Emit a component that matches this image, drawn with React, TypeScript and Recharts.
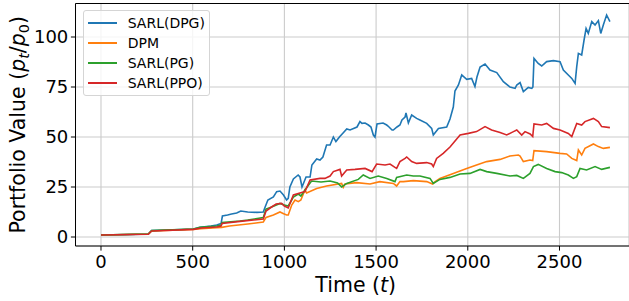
import { LineChart, Line, XAxis, YAxis, CartesianGrid, Legend, ReferenceLine } from 'recharts';

// values: [time step, portfolio value]
const sarlDpg: [number, number][] = [
  [0, 1], [130, 1.2], [258, 1.5], [276, 3.2], [400, 3.6], [504, 4], [540, 4.8], [600, 5.5], [631, 6], [655, 6.8],
  [662, 10.5], [690, 11], [712, 11.5], [740, 12], [762, 13], [800, 12.5], [850, 12.3], [885, 12.5], [895, 15], [910, 18.5],
  [940, 20], [958, 22.7], [976, 23], [995, 21], [1012, 18.5], [1021, 19.3], [1030, 25], [1049, 29], [1075, 31], [1085, 30],
  [1096, 25], [1105, 27], [1118, 30], [1140, 30], [1150, 36], [1176, 39], [1194, 38.5], [1210, 40], [1230, 46], [1249, 46],
  [1267, 50], [1281, 47.7], [1300, 50], [1320, 52], [1340, 54], [1358, 53.5], [1396, 55], [1412, 57.7], [1423, 56.8], [1440, 57],
  [1458, 56], [1472, 55], [1485, 51], [1494, 50], [1505, 56.5], [1538, 57], [1558, 56], [1565, 55.5], [1587, 53.5], [1594, 53.5],
  [1614, 55], [1630, 56], [1641, 58.5], [1658, 60], [1663, 62], [1676, 57], [1694, 61], [1721, 59.3], [1739, 58.5], [1776, 56.8],
  [1803, 54.3], [1812, 51], [1840, 54.3], [1885, 55], [1903, 59], [1921, 65], [1930, 73], [1949, 76], [1967, 81], [1994, 78.8],
  [2021, 79.3], [2039, 75.2], [2050, 80], [2067, 85], [2094, 86.5], [2121, 83.5], [2158, 82.2], [2194, 77.7], [2230, 75], [2258, 74.3],
  [2267, 76], [2285, 77.2], [2303, 72.7], [2330, 74.8], [2349, 74.3], [2355, 75], [2361, 89.3], [2384, 86.8], [2403, 85.5], [2430, 87.7],
  [2467, 88.2], [2503, 87.7], [2521, 83.5], [2548, 81], [2567, 79.3], [2585, 76.8], [2594, 85.2], [2603, 91.8], [2621, 91], [2634, 98.5],
  [2645, 104.3], [2657, 101.8], [2676, 107.7], [2694, 106], [2712, 108.2], [2725, 101.8], [2739, 106], [2757, 111], [2775, 107.7],
];

const dpm: [number, number][] = [
  [0, 1], [258, 1.5], [276, 3], [504, 3.8], [545, 4.2], [631, 4.6], [658, 4.8], [700, 5.5], [800, 6.5], [885, 7.5],
  [900, 9.8], [940, 11], [976, 12.5], [993, 11.8], [1012, 11], [1021, 11], [1040, 16], [1058, 18.5], [1076, 17.7], [1090, 18.5],
  [1112, 23.5], [1121, 22], [1176, 24.3], [1230, 25.5], [1312, 26.8], [1321, 24.8], [1330, 26.5], [1394, 27.2], [1467, 26.5], [1521, 27.7],
  [1594, 26.8], [1612, 25.5], [1630, 27.7], [1649, 27.7], [1703, 28.2], [1776, 27.7], [1808, 26.5], [1820, 27.5], [1848, 29.3], [1921, 31.8],
  [1994, 34.3], [2048, 36], [2103, 37.7], [2176, 38.8], [2230, 40.5], [2276, 41], [2285, 40.5], [2303, 37.7], [2339, 38.5], [2354, 38.2],
  [2361, 43.2], [2430, 42.7], [2503, 41.8], [2539, 41.5], [2567, 39.3], [2594, 38.2], [2603, 43.5], [2621, 41], [2639, 44.3], [2685, 46.5],
  [2712, 45.2], [2739, 44.3], [2775, 44.8],
];

const sarlPg: [number, number][] = [
  [0, 1], [258, 1.5], [276, 3.2], [504, 4], [540, 4.8], [631, 5.5], [655, 6], [660, 7.2], [758, 8], [800, 8.5],
  [885, 9.7], [900, 14], [930, 15], [976, 16.8], [1000, 16], [1021, 15.5], [1049, 20], [1076, 21.5], [1090, 20.5], [1112, 23.5],
  [1148, 28], [1200, 27.5], [1249, 28], [1290, 27], [1312, 25], [1340, 26.8], [1403, 28.8], [1430, 31], [1467, 29.3], [1512, 30.5],
  [1558, 29.3], [1603, 27.7], [1612, 29.8], [1667, 31], [1703, 30.5], [1739, 30.5], [1794, 29.3], [1812, 26.8], [1848, 28.8], [1903, 29.8],
  [1958, 31.5], [2012, 31.8], [2067, 33.8], [2103, 32.7], [2158, 31.8], [2230, 30.5], [2267, 30.8], [2303, 29.3], [2339, 31.8], [2358, 35.2],
  [2384, 36.3], [2430, 34.3], [2476, 32.7], [2512, 32.2], [2548, 31], [2576, 29.3], [2594, 30.2], [2612, 34.3], [2648, 33.5], [2694, 35.2],
  [2730, 33.8], [2775, 34.8],
];

const sarlPpo: [number, number][] = [
  [0, 1], [258, 1.4], [276, 3], [504, 3.8], [545, 4.5], [631, 5], [655, 5.5], [660, 6.8], [758, 7.8], [885, 9],
  [900, 13], [930, 15], [955, 16.5], [985, 16.8], [1000, 15.5], [1021, 14.5], [1049, 21], [1085, 22], [1112, 22.7], [1140, 28.5],
  [1194, 29.3], [1221, 29.3], [1249, 30.5], [1267, 32.7], [1303, 33.8], [1312, 30.5], [1340, 33.5], [1385, 33.8], [1440, 34.3], [1478, 32.7],
  [1503, 36.5], [1549, 36], [1576, 36.5], [1603, 34.8], [1612, 34.3], [1630, 37.7], [1658, 39.3], [1667, 40], [1694, 37.7], [1721, 36.8],
  [1776, 37.2], [1803, 36.5], [1812, 35.2], [1830, 39.3], [1866, 41.8], [1903, 45], [1958, 51], [2003, 51.8], [2048, 52.7], [2094, 55.2],
  [2130, 53.5], [2176, 52.2], [2212, 51], [2249, 52.7], [2267, 53.5], [2294, 51], [2312, 52.7], [2340, 51.5], [2354, 50.2], [2361, 56.5],
  [2403, 56], [2430, 56.8], [2467, 54.3], [2503, 53.5], [2548, 51.8], [2567, 50.2], [2594, 56.8], [2621, 56], [2639, 57.7], [2685, 59.3],
  [2712, 57.7], [2730, 55.2], [2775, 54.7],
];

const timeTicks = [0, 500, 1000, 1500, 2000, 2500];
const valueTicks = [0, 25, 50, 75, 100];

const FONT = '"DejaVu Sans", sans-serif';

const toRows = (pts: [number, number][]) => pts.map(([t, v]) => ({ t, v }));

const series = [
  { name: 'SARL(DPG)', color: '#1f77b4', rows: toRows(sarlDpg) },
  { name: 'DPM', color: '#ff7f0e', rows: toRows(dpm) },
  { name: 'SARL(PG)', color: '#2ca02c', rows: toRows(sarlPg) },
  { name: 'SARL(PPO)', color: '#d62728', rows: toRows(sarlPpo) },
];
const seriesOrder = series.map((s) => s.name);

function LegendBox({ payload }: any) {
  // keep the plotting order, recharts sorts by name otherwise
  const items = [...(payload || [])].sort(
    (a: any, b: any) => seriesOrder.indexOf(a.value) - seriesOrder.indexOf(b.value)
  );
  return (
    <div
      style={{
        width: 127,
        height: 86,
        boxSizing: 'border-box',
        border: '1px solid #d5d5d5',
        borderRadius: 3,
        background: 'rgba(255,255,255,0.8)',
        paddingTop: 2,
        fontFamily: FONT,
        fontSize: 14,
      }}
    >
      {items.map((item: any) => (
        <div key={item.value} style={{ display: 'flex', alignItems: 'center', height: 20 }}>
          <div style={{ width: 29, height: 1.5, marginLeft: 4, background: item.color }} />
          <span style={{ marginLeft: 11, color: '#000', lineHeight: '20px' }}>{item.value}</span>
        </div>
      ))}
    </div>
  );
}

export default function App() {
  return (
    <div style={{ position: 'absolute', left: 0, top: 0, width: 629, height: 301, background: '#fff' }}>
      <LineChart width={629} height={301} margin={{ top: 3.5, right: 0, bottom: 0, left: 0 }}>
        <CartesianGrid stroke="#cbcbcb" strokeWidth={1.1} vertical horizontal />
        <XAxis
          type="number"
          dataKey="t"
          domain={[-139, 2879]}
          ticks={timeTicks}
          allowDataOverflow
          height={55}
          tickSize={4.6}
          tickMargin={5}
          axisLine={{ stroke: '#000', strokeWidth: 1 }}
          tickLine={{ stroke: '#000' }}
          tick={{ fill: '#000', fontSize: 18, fontFamily: FONT }}
        />
        <YAxis
          type="number"
          domain={[-4.5, 116.75]}
          ticks={valueTicks}
          allowDataOverflow
          width={75.5}
          tickSize={4.6}
          tickMargin={2.6}
          axisLine={{ stroke: '#000', strokeWidth: 1 }}
          tickLine={{ stroke: '#000' }}
          tick={{ fill: '#000', fontSize: 18, fontFamily: FONT }}
        />
        <ReferenceLine y={116.75} stroke="#000" strokeWidth={1} />
        {series.map((s) => (
          <Line
            key={s.name}
            data={s.rows}
            dataKey="v"
            name={s.name}
            type="linear"
            stroke={s.color}
            strokeWidth={1.6}
            dot={false}
            activeDot={false}
            isAnimationActive={false}
          />
        ))}
        <Legend
          layout="vertical"
          align="center"
          verticalAlign="middle"
          content={<LegendBox />}
          wrapperStyle={{ left: 82.7, top: 10, width: 127, height: 86 }}
        />
      </LineChart>
      <svg
        width={629}
        height={301}
        style={{ position: 'absolute', left: 0, top: 0, pointerEvents: 'none' }}
        fontFamily={FONT}
      >
        <text x={355.7} y={292} fontSize={20.5} textAnchor="middle" fill="#000">
          Time (<tspan fontStyle="italic">t</tspan>)
        </text>
        <text x={25} y={124.75} fontSize={20.5} textAnchor="middle" fill="#000" transform="rotate(-90 25 124.75)">
          Portfolio Value (<tspan fontStyle="italic">p</tspan>
          <tspan fontStyle="italic" fontSize={14.5} dy={4}>t</tspan>
          <tspan dy={-4}>/</tspan>
          <tspan fontStyle="italic">p</tspan>
          <tspan fontSize={14.5} dy={4}>0</tspan>
          <tspan dy={-4}>)</tspan>
        </text>
      </svg>
    </div>
  );
}
